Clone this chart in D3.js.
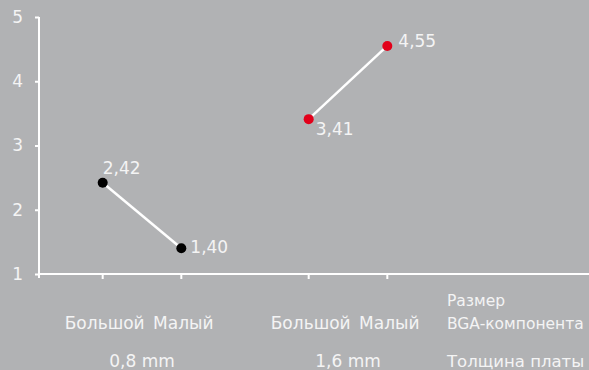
<!DOCTYPE html>
<html>
<head>
<meta charset="utf-8">
<script src="https://cdn.jsdelivr.net/npm/d3@7"></script>
<style>
  body { margin: 0; background: #b1b2b4; }
  svg { display: block; font-family: "DejaVu Sans", sans-serif; }
  .lbl { fill: #f4f4f4; }
</style>
</head>
<body>
<div id="chart"></div>
<script>
// data
let groups = ['0,8 mm', '1,6 mm'];
let sizes = ['Большой', 'Малый'];
let values08 = [2.42, 1.40];
let values16 = [3.41, 4.55];
let valueLabels08 = ['2,42', '1,40'];
let valueLabels16 = ['3,41', '4,55'];
let yTicks = [1, 2, 3, 4, 5];
let sizeTitle = ['Размер', 'BGA-компонента'];
let groupTitle = 'Толщина платы';

let series = [
  { group: groups[0], values: values08, labels: valueLabels08, color: '#000000' },
  { group: groups[1], values: values16, labels: valueLabels16, color: '#e2001a' }
];

let width = 589, height = 370;
let margin = { top: 17, right: 0, bottom: 96, left: 39 };

let svg = d3.select('#chart').append('svg')
  .attr('width', width)
  .attr('height', height);

let x0 = d3.scaleBand()
  .domain(groups)
  .range([margin.left, margin.left + 2 * 206]);

let x1 = d3.scalePoint()
  .domain(sizes)
  .range([0, x0.bandwidth()])
  .padding(0.81);

let y = d3.scaleLinear()
  .domain([1, 5])
  .range([height - margin.bottom, margin.top]);

// y axis
let yAxis = svg.append('g')
  .attr('transform', 'translate(' + margin.left + ',0)')
  .call(d3.axisLeft(y).tickValues(yTicks).tickFormat(d3.format('d'))
    .tickSize(4).tickPadding(12).tickSizeOuter(0));
yAxis.select('.domain').attr('stroke', '#fff').attr('stroke-width', 2)
  .attr('d', 'M0,' + y(5) + 'V' + (y(1) + 4));
yAxis.selectAll('.tick line').attr('stroke', '#fff').attr('stroke-width', 2);
yAxis.selectAll('.tick text')
  .attr('fill', '#f4f4f4')
  .style('font-size', '17px')
  .style('font-family', '"DejaVu Sans", sans-serif');

// x axis
let xTickPos = [];
groups.forEach(g => sizes.forEach(s => xTickPos.push(x0(g) + x1(s))));

let xAxis = svg.append('g').attr('transform', 'translate(0,' + y(1) + ')');
xAxis.append('line')
  .attr('x1', margin.left).attr('x2', width)
  .attr('stroke', '#fff').attr('stroke-width', 2);
xAxis.selectAll('.xt').data(xTickPos).enter().append('line')
  .attr('class', 'xt')
  .attr('x1', d => d).attr('x2', d => d)
  .attr('y1', 0).attr('y2', 5)
  .attr('stroke', '#fff').attr('stroke-width', 2);

// category labels
groups.forEach(g => {
  sizes.forEach(s => {
    svg.append('text').attr('class', 'lbl')
      .attr('x', x0(g) + x1(s) + 2).attr('y', 329)
      .attr('text-anchor', 'middle')
      .style('font-size', '17px')
      .text(s);
  });
  svg.append('text').attr('class', 'lbl')
    .attr('x', x0(g) + x0.bandwidth() / 2).attr('y', 367)
    .attr('text-anchor', 'middle')
    .style('font-size', '17px')
    .text(g);
});

svg.selectAll('.stitle').data(sizeTitle).enter().append('text')
  .attr('class', 'lbl stitle')
  .attr('x', 447).attr('y', (d, i) => 306 + i * 23)
  .style('font-size', '15.5px')
  .text(d => d);
svg.append('text').attr('class', 'lbl')
  .attr('x', 447).attr('y', 367)
  .style('font-size', '16.5px')
  .text(groupTitle);

// lines and points
let labelOffsets = [[[0, -9], [9, 5]], [[7, 16], [11, 1]]];

let line = d3.line()
  .x((d, i) => d.x)
  .y(d => y(d.v));

series.forEach((s, si) => {
  let pts = s.values.map((v, i) => ({ x: x0(s.group) + x1(sizes[i]), v: v, label: s.labels[i] }));

  svg.append('path')
    .datum(pts)
    .attr('d', line)
    .attr('fill', 'none')
    .attr('stroke', '#fff')
    .attr('stroke-width', 2.5);

  svg.selectAll('.pt' + si).data(pts).enter().append('circle')
    .attr('cx', d => d.x)
    .attr('cy', d => y(d.v))
    .attr('r', 5)
    .attr('fill', s.color);

  svg.selectAll('.vl' + si).data(pts).enter().append('text')
    .attr('class', 'lbl')
    .attr('x', (d, i) => d.x + labelOffsets[si][i][0])
    .attr('y', (d, i) => y(d.v) + labelOffsets[si][i][1])
    .style('font-size', '17px')
    .text(d => d.label);
});
</script>
</body>
</html>
